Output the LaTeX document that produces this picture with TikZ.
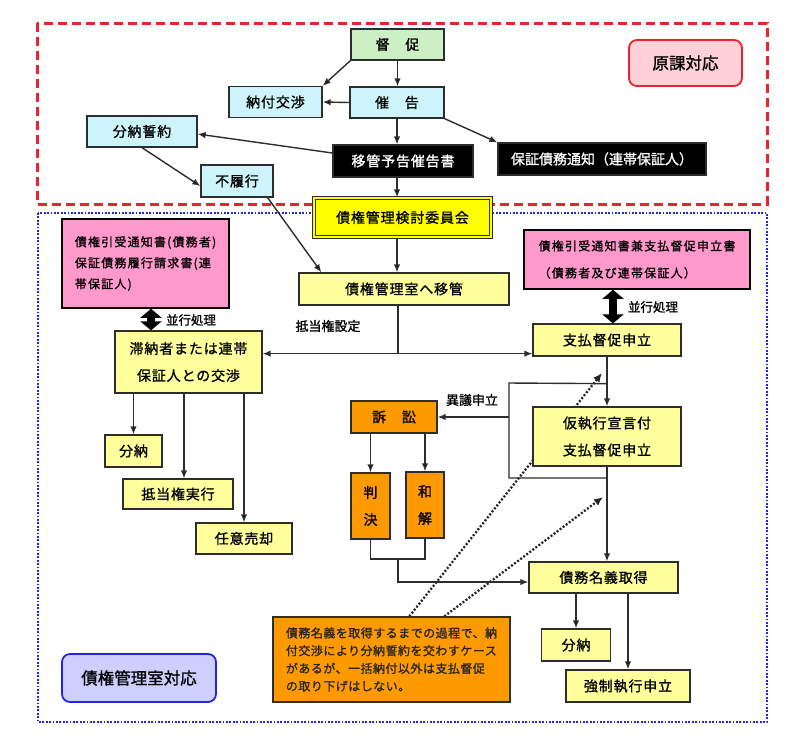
\documentclass[tikz,border=0pt]{standalone}
\usepackage{fontspec}
\setmainfont{Noto Sans CJK JP}[FakeBold=1.1]
\usepackage{tikz}
\usetikzlibrary{
    arrows.meta,
    calc,
    positioning,
    backgrounds
}
\definecolor{lgreen}{RGB}{204,240,196}
\definecolor{lcyan}{RGB}{204,244,250}
\definecolor{lyellow}{RGB}{255,255,156}
\definecolor{kyellow}{RGB}{255,255,0}
\definecolor{lpink}{RGB}{255,153,204}
\definecolor{dorange}{RGB}{255,153,0}
\definecolor{genred}{RGB}{232,36,48}
\definecolor{genfill}{RGB}{255,208,214}
\definecolor{shitsublue}{RGB}{36,36,230}
\definecolor{shitsufill}{RGB}{206,206,255}
\definecolor{edgegray}{RGB}{45,45,45}
\newcommand\fbig{\fontsize{14}{27}\selectfont\addfontfeature{LetterSpace=6}}
\newcommand\fsmall{\fontsize{12}{21}\selectfont\addfontfeature{LetterSpace=10}}
\newcommand\fnote{\fontsize{12}{17.7}\selectfont\addfontfeature{LetterSpace=4}}
\newcommand\flbl{\fontsize{13}{15}\selectfont}
\newcommand\ftitle{\fontsize{16.5}{20}\selectfont}
\tikzset{
    flowbox/.style={draw=edgegray, line width=1.3pt, inner sep=0pt, align=center, font=\fbig},
    wh/.style 2 args={minimum width=#1pt, minimum height=#2pt},
    titlebox/.style={line width=1.8pt, rounded corners=8pt, inner sep=0pt, font=\ftitle},
    lbl/.style={inner sep=1pt, font=\flbl},
    conn/.style={draw=edgegray, line width=1.4pt},
    parallel/.style={draw=black, line width=8pt,
        {Triangle[length=9pt,width=21pt]}-{Triangle[length=9pt,width=21pt]}},
    dotarrow/.style={draw=black!85, line width=2.3pt, dash pattern=on 2pt off 1.8pt,
        -{Latex[length=9pt,width=8pt]}}
}

\begin{document}
\begin{tikzpicture}[x=1pt, y=-1pt, >={Latex[length=8pt,width=6.5pt]}]
\useasboundingbox (0,0) rectangle (800,748);
% areas
\draw[genred, line width=3pt, dash pattern=on 9pt off 5pt] (37,23) rectangle (767,204);
\draw[shitsublue, line width=2.6pt, dash pattern=on 1.8pt off 1.6pt] (38,213) rectangle (767,722);

\node[flowbox, fill=lgreen, wh={93}{31}] (tokusoku) at (397.5,44.5) {督　促};
\node[flowbox, fill=lcyan, wh={94}{31}] (saikoku) at (397,102.5) {催　告};
\node[flowbox, fill=lcyan, wh={93}{31}] (noufu) at (275.5,102) {納付交渉};
\node[flowbox, fill=lcyan, wh={110}{31}] (bunnou) at (142,131.5) {分納誓約};
\node[flowbox, fill=lcyan, wh={72}{32}] (furikou) at (237,181) {不履行};
\node[flowbox, fill=black, text=white, wh={140}{32}] (ikan) at (403,161) {移管予告催告書};
\node[flowbox, fill=black, text=white, wh={208}{32}, font={\fontsize{14}{17}\selectfont}] (hosho) at (602,159) {保証債務通知（連帯保証人）};
\node[titlebox, draw=genred, fill=genfill, wh={113}{46}] (genka) at (685.5,63) {原課対応};

\node[flowbox, fill=kyellow, double=kyellow, double distance=2pt, wh={177}{39}] (iinkai) at (402.5,217.5) {債権管理検討委員会};
\node[flowbox, fill=lyellow, wh={210}{32}] (kanri) at (404,289) {債権管理室へ移管};
\node[flowbox, draw=black, line width=1.6pt, fill=lpink, wh={167}{89}, align=left, font=\fsmall] (pinkL) at (145.5,263.5)
    {債権引受通知書(債務者)\\保証債務履行請求書(連\\帯保証人)};
\node[flowbox, draw=black, line width=1.6pt, fill=lpink, wh={226}{59}, align=left, font={\fontsize{12}{27}\selectfont\addfontfeature{LetterSpace=10}}] (pinkR) at (637,259.5)
    {債権引受通知書兼支払督促申立書\\（債務者及び連帯保証人）};
\node[flowbox, fill=lyellow, wh={147}{62}] (tainou) at (188.5,362) {滞納者または連帯\\保証人との交渉};
\node[flowbox, fill=lyellow, wh={57}{32}] (bunL) at (133.5,451) {分納};
\node[flowbox, fill=lyellow, wh={110}{30}] (teitou) at (178,494) {抵当権実行};
\node[flowbox, fill=lyellow, wh={96}{31}] (nini) at (244,538.5) {任意売却};
\node[flowbox, fill=lyellow, wh={148}{32}] (shiharai) at (607,340) {支払督促申立};
\node[flowbox, fill=lyellow, wh={148}{59}] (kari) at (607,436.5) {仮執行宣言付\\支払督促申立};
\node[flowbox, fill=dorange, wh={86}{32}] (soshou) at (394,417) {訴　訟};
\node[flowbox, fill=dorange, wh={39}{66}] (hanketsu) at (370.5,506) {判\\決};
\node[flowbox, fill=dorange, wh={38}{66}] (wakai) at (425,505) {和\\解};
\node[flowbox, fill=lyellow, wh={149}{31}] (saimu) at (603.5,577.5) {債務名義取得};
\node[flowbox, fill=lyellow, wh={69}{32}] (bunR) at (576,645) {分納};
\node[flowbox, fill=lyellow, wh={124}{32}] (kyousei) at (628,686) {強制執行申立};
\node[flowbox, fill=dorange, text=black!85, wh={237}{85}, align=left, font=\fnote] (note) at (391.5,659.5)
    {債務名義を取得するまでの過程で、納\\付交渉により分納誓約を交わすケース\\があるが、一括納付以外は支払督促\\の取り下げはしない。};
\node[titlebox, draw=shitsublue, fill=shitsufill, wh={154}{48}] (shitsu) at (139,678) {債権管理室対応};

\draw[conn]
    (tokusoku.south) edge[->] (tokusoku.south |- saikoku.north)
    (tokusoku.south west) edge[->] (noufu.north east)
    (saikoku.west) edge[->] (noufu.east)
    (saikoku.south) edge[->] (saikoku.south |- ikan.north)
    (saikoku.south east) edge[->] (hosho.north west)
    ([yshift=8pt]ikan.west) edge[->] ([yshift=-2.5pt]bunnou.east)
    (bunnou.south) edge[->] ([yshift=-5pt]furikou.west)
    (saikoku.south |- ikan.south) edge[->] (saikoku.south |- iinkai.north)
    (saikoku.south |- iinkai.south) edge[->] (saikoku.south |- kanri.north)
    ([xshift=-6pt]furikou.south east) edge[->] ([xshift=23pt]kanri.north west);

\draw[parallel] ([xshift=5.5pt]pinkL.south) -- ([xshift=5.5pt]pinkL.south |- tainou.north);
\node[lbl, font=\fontsize{12.5}{15}\selectfont] (heikouL) at (191,320) {並行処理};
\draw[parallel] ([xshift=6pt]shiharai.north) -- ([xshift=6pt]shiharai.north |- pinkR.south);
\node[lbl, font=\fontsize{12.5}{15}\selectfont] (heikouR) at (653,307) {並行処理};

\coordinate (teitouset) at ($(kanri.south)+(-6,48)$);
\draw[conn] (kanri.south -| teitouset) -- (teitouset);
\draw[conn, ->] (teitouset) -- (teitouset -| tainou.east);
\draw[conn, ->] (teitouset) -- (teitouset -| shiharai.west);
\node[lbl] (teitoulbl) at (328,326) {抵当権設定};

\draw[conn]
    (tainou.south -| bunL.north) edge[->] (bunL.north)
    ($(tainou.south -| teitou.north)+(6,0)$) edge[->] ($(teitou.north)+(6,0)$)
    (tainou.south -| nini.north) edge[->] (nini.north);

% shiharai tokusoku line
\draw[conn, ->] (shiharai.south) -- (kari.north);
\draw[conn, ->] (kari.south) -- (kari.south |- saimu.north);
\coordinate (igiR) at ($(shiharai.south)+(0,27)$);
\coordinate (igiT) at (509,383);
\coordinate (igiB) at (509,478);
\draw[conn] (igiR) -- (igiT) -- (igiB) -- (igiB -| kari.south);
\draw[conn, ->] (igiT |- soshou.east) -- (soshou.east);
\node[lbl] (igilbl) at (472,400) {異議申立};

\draw[conn]
    (soshou.south -| hanketsu.north) edge[->] (hanketsu.north)
    (soshou.south -| wakai.north) edge[->] (wakai.north);
\coordinate (hanwa) at (398,559);
\draw[conn] (hanketsu.south) |- (hanwa) -| (wakai.south);
\draw[conn, ->] (hanwa) |- ([yshift=-4.5pt]saimu.west);

\draw[conn]
    (saimu.south -| bunR.north) edge[->] (bunR.north)
    (saimu.south -| kyousei.north) edge[->] (kyousei.north);

\coordinate (dotA) at (602,373);
\coordinate (dotB) at (603,497);
\begin{pgfonlayer}{background}
\draw[dotarrow] ($(note.north west)+(137,0)$) -- (dotA);
\draw[dotarrow] ($(note.north west)+(172,0)$) -- (dotB);
\end{pgfonlayer}
\end{tikzpicture}
\end{document}
